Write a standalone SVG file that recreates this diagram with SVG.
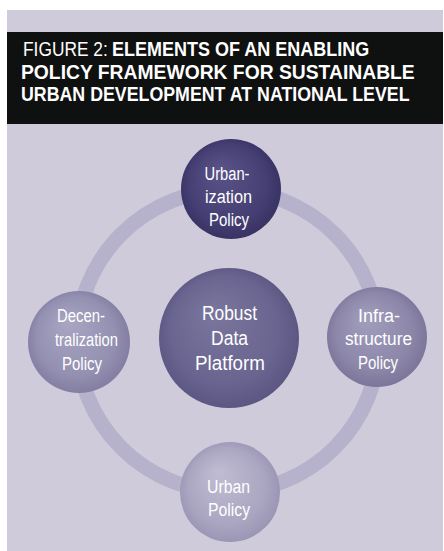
<svg xmlns="http://www.w3.org/2000/svg" width="444" height="551" viewBox="0 0 444 551">
  <style>
    .title { font-family: "Liberation Sans", Arial, sans-serif; font-size: 19.5px; fill: #ffffff; }
    .b { font-weight: bold; }
    .lbl { font-family: "Liberation Sans", Arial, sans-serif; font-size: 18px; fill: #ffffff; text-anchor: middle; }
    .big { font-size: 19.5px; }
  </style>
  <defs>
    <radialGradient id="gTop" cx="0.5" cy="0.5" r="0.55" fx="0.38" fy="0.3">
      <stop offset="0" stop-color="#5a5488"/>
      <stop offset="0.7" stop-color="#453f74"/>
      <stop offset="1" stop-color="#35305f"/>
    </radialGradient>
    <radialGradient id="gCenter" cx="0.5" cy="0.5" r="0.55" fx="0.38" fy="0.3">
      <stop offset="0" stop-color="#7a769d"/>
      <stop offset="0.7" stop-color="#6a6590"/>
      <stop offset="1" stop-color="#57527e"/>
    </radialGradient>
    <radialGradient id="gLeft" cx="0.5" cy="0.5" r="0.55" fx="0.38" fy="0.3">
      <stop offset="0" stop-color="#a9a5c2"/>
      <stop offset="0.7" stop-color="#9490b1"/>
      <stop offset="1" stop-color="#7e799e"/>
    </radialGradient>
    <radialGradient id="gRight" cx="0.5" cy="0.5" r="0.55" fx="0.38" fy="0.3">
      <stop offset="0" stop-color="#a29ebd"/>
      <stop offset="0.7" stop-color="#8c87a9"/>
      <stop offset="1" stop-color="#777296"/>
    </radialGradient>
    <radialGradient id="gBottom" cx="0.5" cy="0.5" r="0.55" fx="0.38" fy="0.3">
      <stop offset="0" stop-color="#c0bdd3"/>
      <stop offset="0.7" stop-color="#aaa6c1"/>
      <stop offset="1" stop-color="#9591b0"/>
    </radialGradient>
  </defs>

  <rect x="0" y="0" width="444" height="551" fill="#ffffff"/>
  <rect x="7" y="10" width="436" height="541" fill="#cfcbdb"/>
  <rect x="7" y="32" width="436" height="92" fill="#0f1010"/>

  <g id="title">
    <text class="title" transform="translate(23,56) scale(0.89,1)">FIGURE 2:</text>
    <text class="title b" transform="translate(112,56) scale(0.923,1)">ELEMENTS OF AN ENABLING</text>
    <text class="title b" transform="translate(21,78.5) scale(0.99,1)">POLICY FRAMEWORK FOR SUSTAINABLE</text>
    <text class="title b" transform="translate(21,101) scale(0.912,1)">URBAN DEVELOPMENT AT NATIONAL LEVEL</text>
  </g>

  <g id="connectors">
    <circle cx="228" cy="341" r="151" fill="none" stroke="#b7b2cb" stroke-width="15"/>
  </g>

  <g id="node-center">
    <circle cx="229" cy="338" r="70" fill="url(#gCenter)"/>
    <text class="lbl big" x="229.5" y="320" textLength="55" lengthAdjust="spacingAndGlyphs">Robust</text>
    <text class="lbl big" x="229.5" y="345" textLength="37" lengthAdjust="spacingAndGlyphs">Data</text>
    <text class="lbl big" x="230" y="370" textLength="70" lengthAdjust="spacingAndGlyphs">Platform</text>
  </g>

  <g id="node-top">
    <circle cx="231" cy="189" r="50" fill="url(#gTop)"/>
    <text class="lbl" x="227" y="180" textLength="45" lengthAdjust="spacingAndGlyphs">Urban-</text>
    <text class="lbl" x="228.5" y="203" textLength="47" lengthAdjust="spacingAndGlyphs">ization</text>
    <text class="lbl" x="229" y="226" textLength="40" lengthAdjust="spacingAndGlyphs">Policy</text>
  </g>

  <g id="node-left">
    <circle cx="79" cy="342" r="51" fill="url(#gLeft)"/>
    <text class="lbl" x="81" y="322" textLength="48" lengthAdjust="spacingAndGlyphs">Decen-</text>
    <text class="lbl" x="86.5" y="346" textLength="63" lengthAdjust="spacingAndGlyphs">tralization</text>
    <text class="lbl" x="82" y="370" textLength="40" lengthAdjust="spacingAndGlyphs">Policy</text>
  </g>

  <g id="node-right">
    <circle cx="377" cy="337" r="50" fill="url(#gRight)"/>
    <text class="lbl" x="379" y="322" textLength="42" lengthAdjust="spacingAndGlyphs">Infra-</text>
    <text class="lbl" x="378.5" y="345" textLength="67" lengthAdjust="spacingAndGlyphs">structure</text>
    <text class="lbl" x="378" y="369" textLength="40" lengthAdjust="spacingAndGlyphs">Policy</text>
  </g>

  <g id="node-bottom">
    <circle cx="230" cy="492" r="50" fill="url(#gBottom)"/>
    <text class="lbl" x="228.5" y="493" textLength="43" lengthAdjust="spacingAndGlyphs">Urban</text>
    <text class="lbl" x="229" y="516" textLength="42" lengthAdjust="spacingAndGlyphs">Policy</text>
  </g>
</svg>
